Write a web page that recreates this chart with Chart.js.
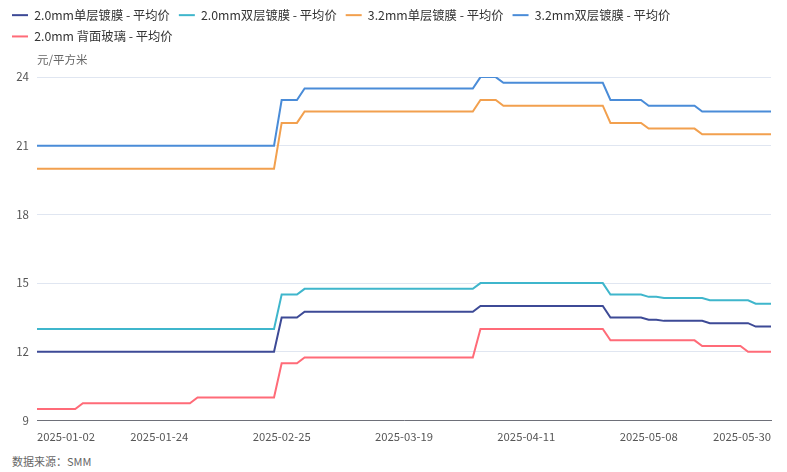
<!DOCTYPE html>
<html>
<head>
<meta charset="utf-8">
<script src="https://cdn.jsdelivr.net/npm/chart.js@4.4.1/dist/chart.umd.min.js"></script>
<style>
  html, body { margin: 0; padding: 0; background: #fff; }
  #wrap { position: relative; width: 787px; height: 472px; }
  #c { position: absolute; left: 0; top: 0; }
  #src { position: absolute; left: 12px; top: 453px; font: 11px "Noto Sans CJK SC", "Noto Sans", sans-serif; color: #666; }
</style>
</head>
<body>
<div id="wrap">
  <canvas id="c" width="787" height="452"></canvas>
  <div id="src">数据来源：SMM</div>
</div>
<script>
const dates = [
  "2025-01-02","2025-01-03","2025-01-06","2025-01-07","2025-01-08","2025-01-09","2025-01-10",
  "2025-01-13","2025-01-14","2025-01-15","2025-01-16","2025-01-17",
  "2025-01-20","2025-01-21","2025-01-22","2025-01-23","2025-01-24",
  "2025-01-27","2025-02-05","2025-02-06","2025-02-07",
  "2025-02-10","2025-02-11","2025-02-12","2025-02-13","2025-02-14",
  "2025-02-17","2025-02-18","2025-02-19","2025-02-20","2025-02-21",
  "2025-02-24","2025-02-25","2025-02-26","2025-02-27","2025-02-28",
  "2025-03-03","2025-03-04","2025-03-05","2025-03-06","2025-03-07",
  "2025-03-10","2025-03-11","2025-03-12","2025-03-13","2025-03-14",
  "2025-03-17","2025-03-18","2025-03-19","2025-03-20","2025-03-21",
  "2025-03-24","2025-03-25","2025-03-26","2025-03-27","2025-03-28",
  "2025-03-31","2025-04-01","2025-04-02","2025-04-03",
  "2025-04-07","2025-04-08","2025-04-09","2025-04-10","2025-04-11",
  "2025-04-14","2025-04-15","2025-04-16","2025-04-17","2025-04-18",
  "2025-04-21","2025-04-22","2025-04-23","2025-04-24","2025-04-25",
  "2025-04-28","2025-04-29","2025-04-30",
  "2025-05-06","2025-05-07","2025-05-08","2025-05-09",
  "2025-05-12","2025-05-13","2025-05-14","2025-05-15","2025-05-16",
  "2025-05-19","2025-05-20","2025-05-21","2025-05-22","2025-05-23",
  "2025-05-26","2025-05-27","2025-05-28","2025-05-29","2025-05-30"
];

const tickDates = ["2025-01-02","2025-01-24","2025-02-25","2025-03-19","2025-04-11","2025-05-08","2025-05-30"];
const yTicks = [9, 12, 15, 18, 21, 24];

const seriesNames = [
  "2.0mm单层镀膜 - 平均价",
  "2.0mm双层镀膜 - 平均价",
  "3.2mm单层镀膜 - 平均价",
  "3.2mm双层镀膜 - 平均价",
  "2.0mm 背面玻璃 - 平均价"
];

// 2.0mm单层镀膜
const single20 = [
  12,12,12,12,12,12,12,12,12,12,12,12,12,12,12,12,12,12,12,12,
  12,12,12,12,12,12,12,12,12,12,12,12,13.5,13.5,13.5,13.75,13.75,13.75,13.75,13.75,
  13.75,13.75,13.75,13.75,13.75,13.75,13.75,13.75,13.75,13.75,13.75,13.75,13.75,13.75,13.75,13.75,13.75,13.75,14,14,
  14,14,14,14,14,14,14,14,14,14,14,14,14,14,14,13.5,13.5,13.5,13.5,13.5,
  13.4,13.4,13.35,13.35,13.35,13.35,13.35,13.35,13.25,13.25,13.25,13.25,13.25,13.25,13.1,13.1,13.1
];
// 2.0mm双层镀膜
const double20 = [
  13,13,13,13,13,13,13,13,13,13,13,13,13,13,13,13,13,13,13,13,
  13,13,13,13,13,13,13,13,13,13,13,13,14.5,14.5,14.5,14.75,14.75,14.75,14.75,14.75,
  14.75,14.75,14.75,14.75,14.75,14.75,14.75,14.75,14.75,14.75,14.75,14.75,14.75,14.75,14.75,14.75,14.75,14.75,15,15,
  15,15,15,15,15,15,15,15,15,15,15,15,15,15,15,14.5,14.5,14.5,14.5,14.5,
  14.4,14.4,14.35,14.35,14.35,14.35,14.35,14.35,14.25,14.25,14.25,14.25,14.25,14.25,14.1,14.1,14.1
];
// 3.2mm单层镀膜
const single32 = [
  20,20,20,20,20,20,20,20,20,20,20,20,20,20,20,20,20,20,20,20,
  20,20,20,20,20,20,20,20,20,20,20,20,22,22,22,22.5,22.5,22.5,22.5,22.5,
  22.5,22.5,22.5,22.5,22.5,22.5,22.5,22.5,22.5,22.5,22.5,22.5,22.5,22.5,22.5,22.5,22.5,22.5,23,23,
  23,22.75,22.75,22.75,22.75,22.75,22.75,22.75,22.75,22.75,22.75,22.75,22.75,22.75,22.75,22,22,22,22,22,
  21.75,21.75,21.75,21.75,21.75,21.75,21.75,21.5,21.5,21.5,21.5,21.5,21.5,21.5,21.5,21.5,21.5
];
// 3.2mm双层镀膜
const double32 = [
  21,21,21,21,21,21,21,21,21,21,21,21,21,21,21,21,21,21,21,21,
  21,21,21,21,21,21,21,21,21,21,21,21,23,23,23,23.5,23.5,23.5,23.5,23.5,
  23.5,23.5,23.5,23.5,23.5,23.5,23.5,23.5,23.5,23.5,23.5,23.5,23.5,23.5,23.5,23.5,23.5,23.5,24,24,
  24,23.75,23.75,23.75,23.75,23.75,23.75,23.75,23.75,23.75,23.75,23.75,23.75,23.75,23.75,23,23,23,23,23,
  22.75,22.75,22.75,22.75,22.75,22.75,22.75,22.5,22.5,22.5,22.5,22.5,22.5,22.5,22.5,22.5,22.5
];
// 2.0mm 背面玻璃
const back20 = [
  9.5,9.5,9.5,9.5,9.5,9.5,9.75,9.75,9.75,9.75,9.75,9.75,9.75,9.75,9.75,9.75,9.75,9.75,9.75,9.75,
  9.75,10,10,10,10,10,10,10,10,10,10,10,11.5,11.5,11.5,11.75,11.75,11.75,11.75,11.75,
  11.75,11.75,11.75,11.75,11.75,11.75,11.75,11.75,11.75,11.75,11.75,11.75,11.75,11.75,11.75,11.75,11.75,11.75,13,13,
  13,13,13,13,13,13,13,13,13,13,13,13,13,13,13,12.5,12.5,12.5,12.5,12.5,
  12.5,12.5,12.5,12.5,12.5,12.5,12.5,12.25,12.25,12.25,12.25,12.25,12.25,12,12,12,12
];

const colors = ["#3d4a96", "#3fb6cc", "#f2a04e", "#4a8cd8", "#ff6b78"];
const seriesData = [single20, double20, single32, double32, back20];

const FONT = '"Noto Sans CJK SC", "Noto Sans", sans-serif';

// unit label above the plot area, left-aligned with it
const unitLabel = {
  id: 'unitLabel',
  afterDraw(chart) {
    const ctx = chart.ctx;
    ctx.save();
    ctx.font = '11.5px ' + FONT;
    ctx.fillStyle = '#666';
    ctx.textAlign = 'left';
    ctx.textBaseline = 'middle';
    ctx.fillText('元/平方米', chart.chartArea.left, chart.chartArea.top - 17);
    ctx.restore();
  }
};

// extra space between the legend and the plot area
const legendGap = {
  id: 'legendGap',
  afterInit(chart) {
    const lg = chart.legend;
    if (!lg) return;
    const orig = lg.fit.bind(lg);
    lg.fit = function () { orig(); this.height += 24.5; };
  }
};

new Chart(document.getElementById('c'), {
  type: 'line',
  data: {
    labels: dates,
    datasets: seriesNames.map((name, k) => ({
      label: name,
      data: seriesData[k],
      borderColor: colors[k],
      backgroundColor: colors[k],
      borderWidth: 2,
      pointRadius: 0,
      pointHoverRadius: 0,
      tension: 0,
      fill: false
    }))
  },
  options: {
    responsive: false,
    animation: false,
    layout: { padding: { left: 3, right: 16, top: 0, bottom: 0 } },
    plugins: {
      legend: {
        position: 'top',
        align: 'start',
        labels: {
          usePointStyle: true,
          pointStyle: 'line',
          pointStyleWidth: 16,
          padding: 9,
          color: '#333',
          font: { size: 12.3, family: FONT }
        }
      },
      tooltip: { enabled: false }
    },
    scales: {
      x: {
        type: 'category',
        offset: false,
        grid: { display: false, drawTicks: false },
        border: { display: true, color: '#6e7079', width: 1 },
        ticks: {
          autoSkip: false,
          maxRotation: 0,
          minRotation: 0,
          align: 'inner',
          padding: 9,
          color: '#555',
          font: { size: 11.3, family: FONT },
          callback: function(val, idx) {
            const d = dates[idx];
            return tickDates.includes(d) ? d : null;
          }
        }
      },
      y: {
        min: yTicks[0],
        max: yTicks[yTicks.length - 1],
        afterFit(scale) { scale.width = 34; },
        afterBuildTicks(scale) { scale.ticks = yTicks.map(v => ({ value: v })); },
        grid: { color: '#e0e6f1', drawTicks: false },
        border: { display: false },
        ticks: {
          padding: 8,
          color: '#555',
          font: { size: 11.5, family: FONT }
        }
      }
    }
  },
  plugins: [unitLabel, legendGap]
});
</script>
</body>
</html>
